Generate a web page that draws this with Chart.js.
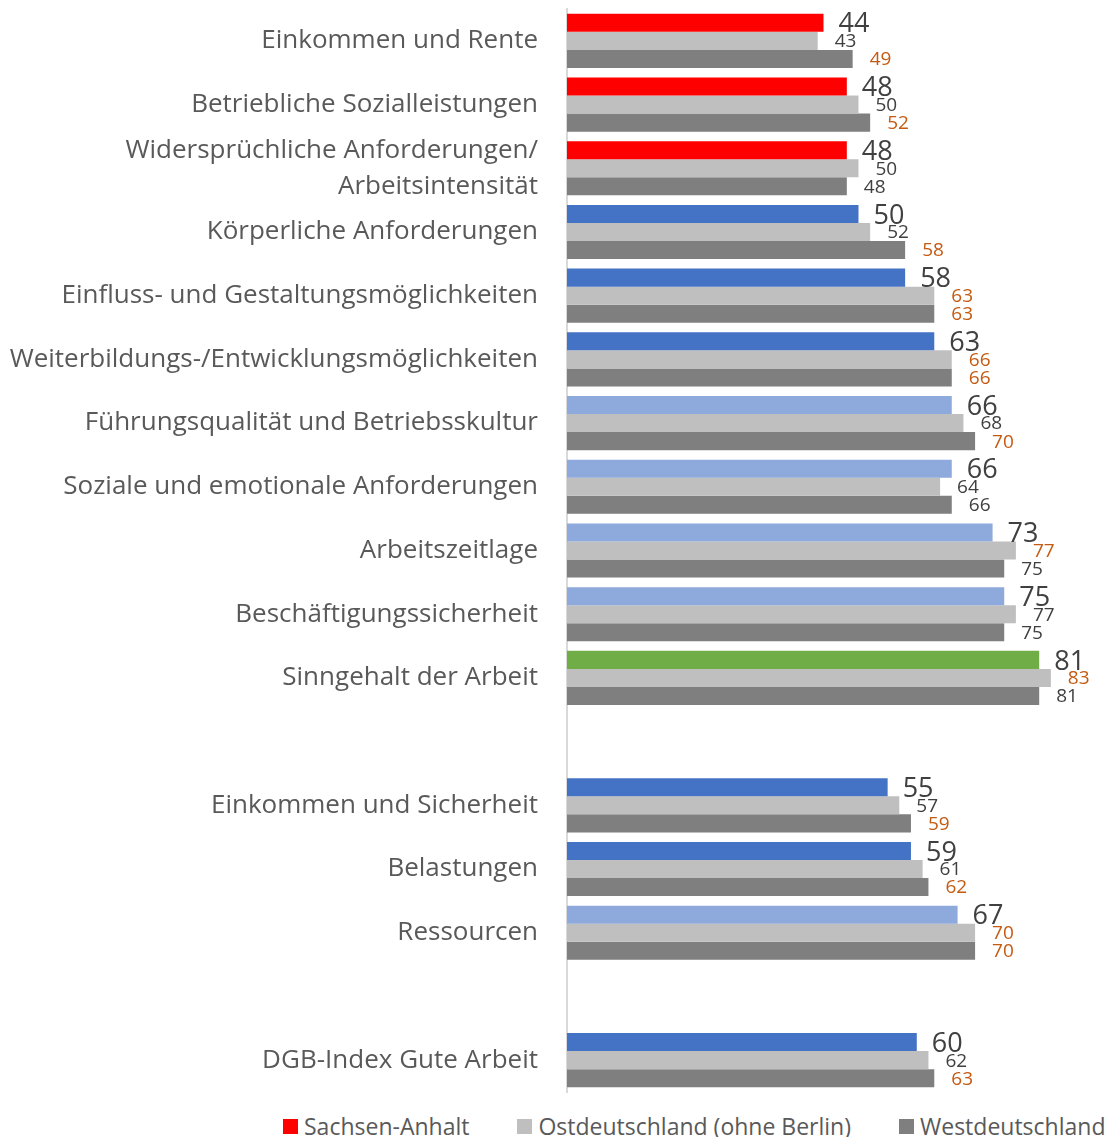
<!DOCTYPE html>
<html>
<head>
<meta charset="utf-8">
<script src="https://cdn.jsdelivr.net/npm/chart.js@4/dist/chart.umd.min.js"></script>
<style>
  html, body { margin: 0; padding: 0; background: #fff; }
  #wrap { width: 1115px; height: 1137px; position: relative; }
  #chartBox { position: absolute; left: 0; top: 0; width: 1115px; height: 1100px; }
  #legend {
    position: absolute; left: 283px; top: 1110px;
    display: flex; gap: 48px;
    font-family: "Open Sans", "Noto Sans", sans-serif; font-size: 23px; color: #595959;
    white-space: nowrap;
  }
  #legend .item { display: flex; align-items: center; }
  #legend .sw { width: 15px; height: 15px; margin-right: 6px; }
</style>
</head>
<body>
<div id="wrap">
  <div id="chartBox"><canvas id="dgbChart"></canvas></div>
  <div id="legend"></div>
</div>
<script>
const categories = [
    'Einkommen und Rente',
    'Betriebliche Sozialleistungen',
    ['Widersprüchliche Anforderungen/', 'Arbeitsintensität'],
    'Körperliche Anforderungen',
    'Einfluss- und Gestaltungsmöglichkeiten',
    'Weiterbildungs-/Entwicklungsmöglichkeiten',
    'Führungsqualität und Betriebsskultur',
    'Soziale und emotionale Anforderungen',
    'Arbeitszeitlage',
    'Beschäftigungssicherheit',
    'Sinngehalt der Arbeit',
    '',
    'Einkommen und Sicherheit',
    'Belastungen',
    'Ressourcen',
    '',
    'DGB-Index Gute Arbeit'
];

const sachsenAnhalt = [44, 48, 48, 50, 58, 63, 66, 66, 73, 75, 81, null, 55, 59, 67, null, 60];
const ostdeutschland = [43, 50, 50, 52, 63, 66, 68, 64, 77, 77, 83, null, 57, 61, 70, null, 62];
const westdeutschland = [49, 52, 48, 58, 63, 66, 70, 66, 75, 75, 81, null, 59, 62, 70, null, 63];

// values printed in orange in the original
const ostMarked = [0, 0, 0, 0, 1, 1, 0, 0, 1, 0, 1, 0, 0, 0, 1, 0, 0];
const westMarked = [1, 1, 0, 1, 1, 1, 1, 0, 0, 0, 0, 0, 1, 1, 1, 0, 1];

const legendLabels = ['Sachsen-Anhalt', 'Ostdeutschland (ohne Berlin)', 'Westdeutschland'];
const legendColors = ['#FF0000', '#BFBFBF', '#7F7F7F'];

const FONT = '"Open Sans", "Noto Sans", sans-serif';
const textGray = '#595959';
const labelDark = '#404040';
const orange = '#C55A11';

// DGB-Index bands
function bandColor(v) {
    if (v == null) return 'transparent';
    if (v < 50) return '#FF0000';
    if (v < 64) return '#4472C4';
    if (v < 80) return '#8EA9DB';
    return '#70AD47';
}

const valueLabels = {
    id: 'valueLabels',
    afterDatasetsDraw(chart) {
        const ctx = chart.ctx;
        ctx.save();
        ctx.textAlign = 'left';
        ctx.textBaseline = 'middle';
        chart.data.datasets.forEach((ds, di) => {
            const meta = chart.getDatasetMeta(di);
            meta.data.forEach((bar, i) => {
                const v = ds.data[i];
                if (v == null) return;
                if (di === 0) {
                    ctx.font = '27px ' + FONT;
                    ctx.fillStyle = labelDark;
                    ctx.fillText(v, bar.x + 15, bar.y + 2);
                } else {
                    const marked = di === 1 ? ostMarked[i] : westMarked[i];
                    ctx.font = '19px ' + FONT;
                    ctx.fillStyle = marked ? orange : labelDark;
                    ctx.fillText(v, bar.x + 17, bar.y + 1);
                }
            });
        });
        ctx.restore();
    }
};

new Chart(document.getElementById('dgbChart'), {
    type: 'bar',
    data: {
        labels: categories,
        datasets: [
            { label: legendLabels[0], data: sachsenAnhalt, backgroundColor: sachsenAnhalt.map(bandColor) },
            { label: legendLabels[1], data: ostdeutschland, backgroundColor: legendColors[1] },
            { label: legendLabels[2], data: westdeutschland, backgroundColor: legendColors[2] }
        ]
    },
    options: {
        indexAxis: 'y',
        responsive: true,
        maintainAspectRatio: false,
        animation: false,
        categoryPercentage: 0.85,
        barPercentage: 1.0,
        layout: { padding: { top: 9, right: 0, left: 0, bottom: 8 } },
        scales: {
            x: {
                display: false,
                min: 0,
                max: 94
            },
            y: {
                grid: { display: false, drawTicks: false },
                border: { display: true, color: '#D9D9D9', width: 2 },
                ticks: {
                    autoSkip: false,
                    color: textGray,
                    padding: 29,
                    font: { family: FONT, size: 26, lineHeight: 1.38 }
                },
                afterFit(scale) {
                    scale.width = 567;
                    scale.paddingTop = 0;
                    scale.paddingBottom = 0;
                }
            }
        },
        plugins: {
            tooltip: { enabled: false },
            legend: { display: false }
        }
    },
    plugins: [valueLabels]
});

const legendEl = document.getElementById('legend');
legendLabels.forEach((name, i) => {
    const item = document.createElement('div');
    item.className = 'item';
    item.innerHTML = '<span class="sw" style="background:' + legendColors[i] + '"></span><span>' + name + '</span>';
    legendEl.appendChild(item);
});
</script>
</body>
</html>
